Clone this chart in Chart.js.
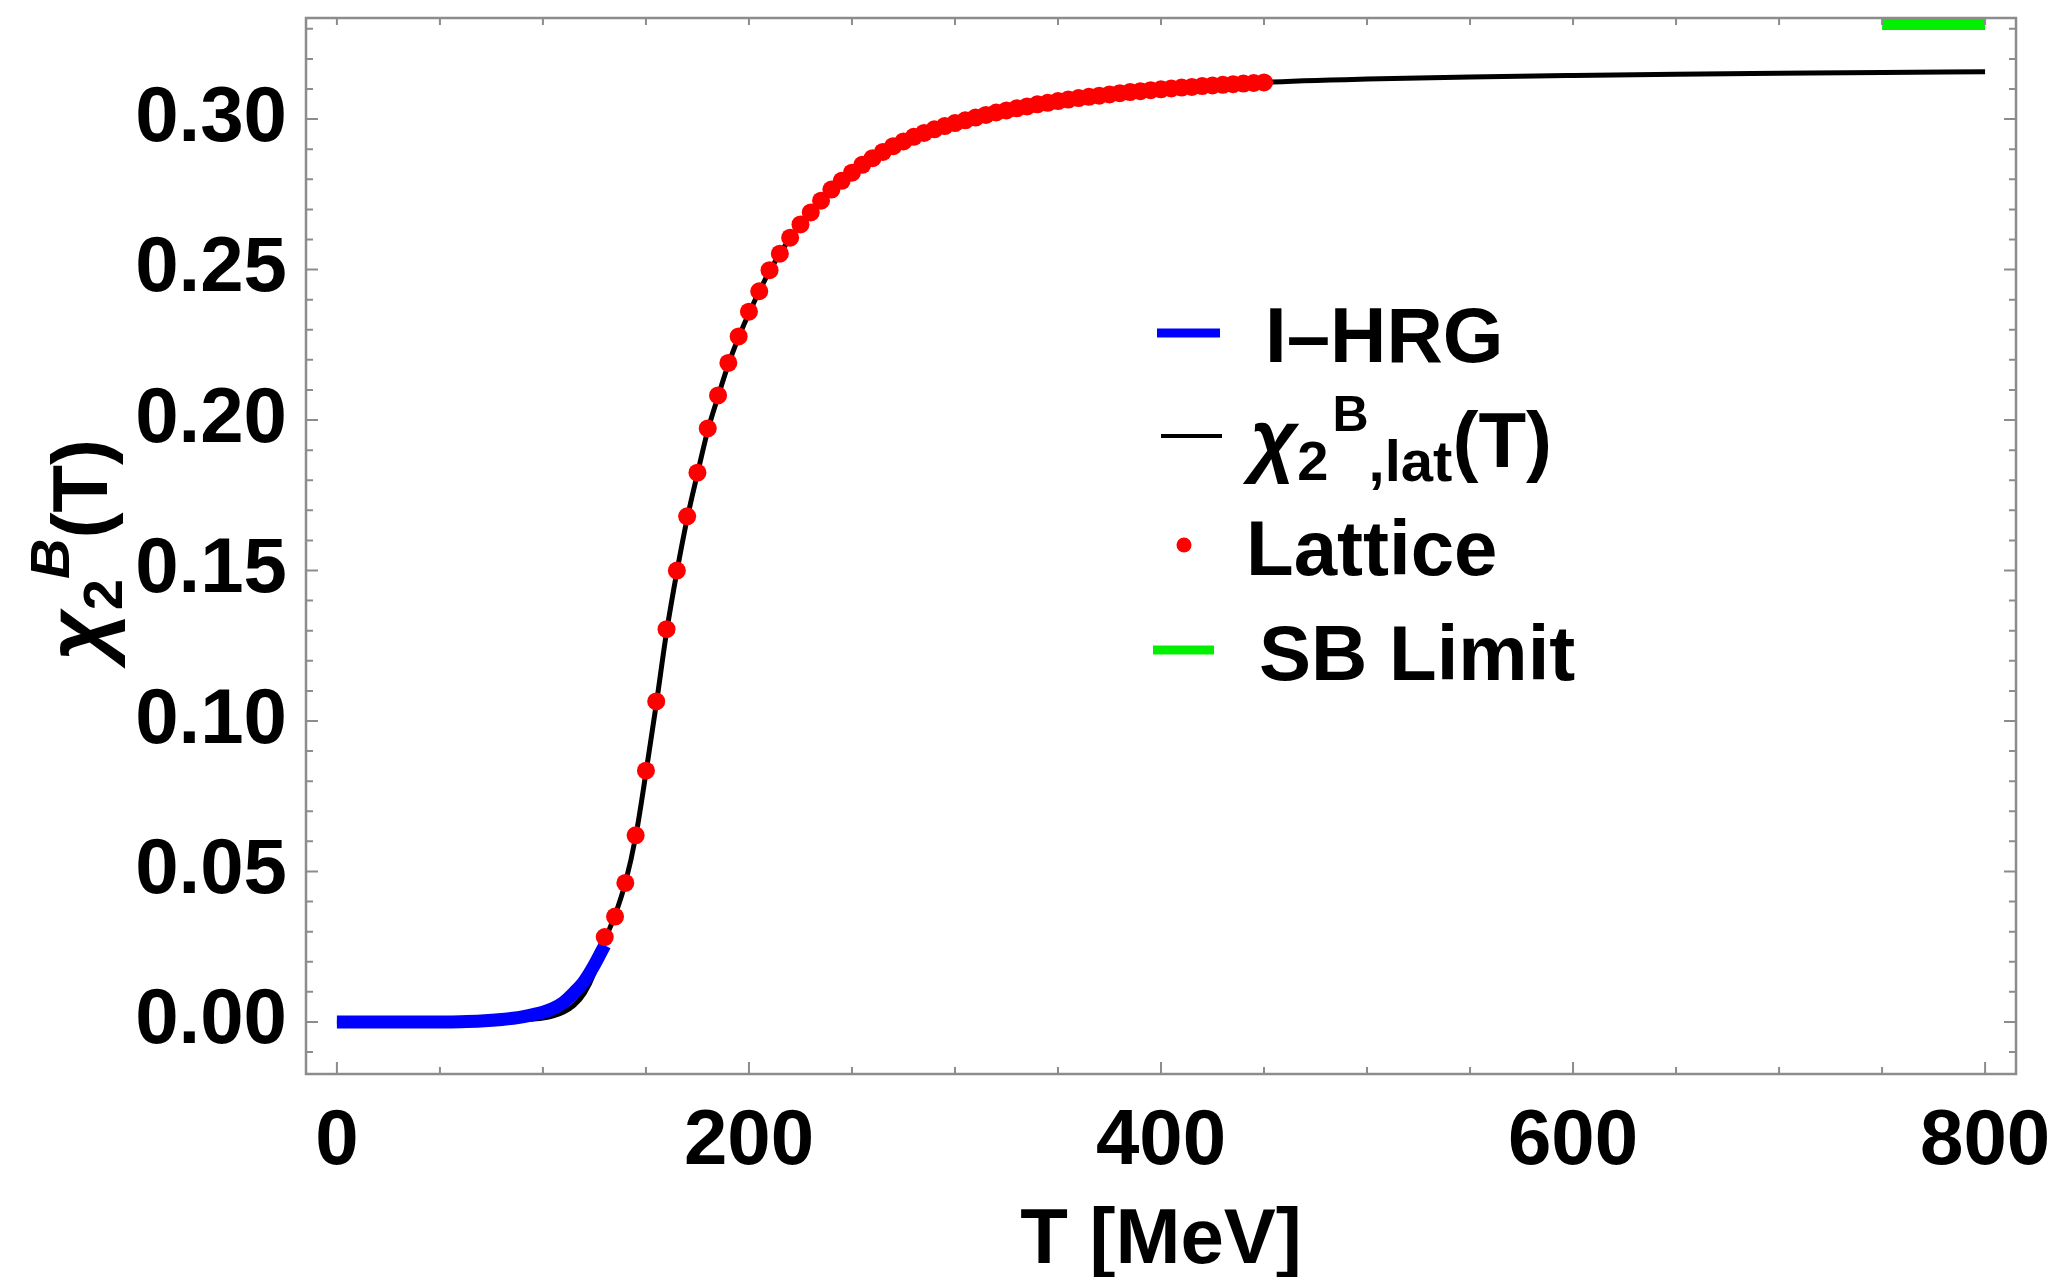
<!DOCTYPE html>
<html>
<head>
<meta charset="utf-8">
<script src="https://cdn.jsdelivr.net/npm/chart.js@4.4.0/dist/chart.umd.min.js"></script>
<style>
  body { margin: 0; background: #fff; }
  #wrap { width: 2054px; height: 1277px; }
</style>
</head>
<body>
<div id="wrap"><canvas id="chi2" width="2054" height="1277"></canvas></div>
<script>
// I-HRG curve (blue)
const hrgT   = [0, 20, 40, 60, 70, 80, 90, 100, 105, 110, 115, 120, 125, 130];
const hrgChi = [0, 0, 0, 0.0001, 0.0003, 0.0008, 0.0017, 0.0032, 0.0045, 0.0065, 0.0097, 0.0135, 0.019, 0.0255];

// lattice parametrisation (black)
const fitT   = [0, 50, 80, 90, 100, 105, 110, 115, 120, 125, 130, 135, 140, 145, 150, 155, 160, 165, 170, 175,
                180, 185, 190, 195, 200, 210, 220, 230, 240, 250, 260, 270, 280, 290, 300, 320, 340, 360, 380,
                400, 425, 450, 500, 550, 600, 650, 700, 750, 800];
const fitChi = [0, 0, 0.0003, 0.0007, 0.0013, 0.002, 0.0033, 0.0055, 0.0095, 0.0165, 0.027, 0.0355, 0.0462, 0.0615,
                0.0828, 0.1055, 0.1295, 0.1495, 0.1672, 0.1822, 0.1965, 0.2078, 0.2185, 0.2275, 0.2355, 0.2495,
                0.2605, 0.269, 0.2765, 0.2822, 0.287, 0.291, 0.294, 0.2965, 0.2986, 0.3022, 0.3048, 0.3069, 0.3086,
                0.3099, 0.3112, 0.3122, 0.3133, 0.314, 0.3145, 0.3149, 0.3152, 0.3155, 0.3157];

// lattice points (red)
const latT   = [130, 135, 140, 145, 150, 155, 160, 165, 170, 175, 180, 185, 190, 195, 200, 205, 210, 215, 220, 225,
                230, 235, 240, 245, 250, 255, 260, 265, 270, 275, 280, 285, 290, 295, 300, 305, 310, 315, 320, 325,
                330, 335, 340, 345, 350, 355, 360, 365, 370, 375, 380, 385, 390, 395, 400, 405, 410, 415, 420, 425,
                430, 435, 440, 445, 450];
const latChi = [0.0282, 0.035, 0.0462, 0.062, 0.0835, 0.1065, 0.1305, 0.15, 0.168, 0.1825, 0.1972, 0.2082, 0.219,
                0.2278, 0.236, 0.2428, 0.2498, 0.2553, 0.2606, 0.265, 0.269, 0.2729, 0.2766, 0.2795, 0.2822, 0.2848,
                0.287, 0.2891, 0.291, 0.2926, 0.2941, 0.2954, 0.2966, 0.2977, 0.2987, 0.2996, 0.3005, 0.3014, 0.3022,
                0.3029, 0.3036, 0.3042, 0.3049, 0.3054, 0.306, 0.3065, 0.307, 0.3074, 0.3078, 0.3082, 0.3086, 0.309,
                0.3093, 0.3096, 0.3099, 0.3102, 0.3105, 0.3107, 0.311, 0.3112, 0.3114, 0.3116, 0.3118, 0.312, 0.3122];

// Stefan-Boltzmann limit (green)
const sbT   = [750, 800];
const sbChi = [0.3333, 0.3333];

const xTickValues = [0, 200, 400, 600, 800];
const yTickValues = [0, 0.05, 0.10, 0.15, 0.20, 0.25, 0.30];

const FONT = '"Liberation Sans", Arial, sans-serif';

function pts(xs, ys) {
    return xs.map((v, i) => ({x: v, y: ys[i]}));
}

// draws text pieces one after another (sub/superscripts)
function drawRich(ctx, parts, x, y) {
    for (let p of parts) {
        ctx.font = p.font;
        ctx.fillText(p.text, x, y + (p.dy || 0));
        x += ctx.measureText(p.text).width + (p.gap || 0);
    }
}

const frameTicks = {
    id: 'frameTicks',
    afterDraw(chart) {
        const ctx = chart.ctx;
        const a = chart.chartArea;
        const xs = chart.scales.x, ys = chart.scales.y;
        ctx.save();
        ctx.strokeStyle = '#8c8c8c';
        ctx.lineWidth = 2;
        ctx.beginPath();
        for (let t = 0; t <= 800; t += 50) {
            let px = xs.getPixelForValue(t);
            let len = t % 200 == 0 ? 12 : 7;
            ctx.moveTo(px, a.bottom); ctx.lineTo(px, a.bottom - len);
            ctx.moveTo(px, a.top); ctx.lineTo(px, a.top + 7);
        }
        for (let k = -1; k <= 33; k++) {
            let py = ys.getPixelForValue(k / 100);
            let len = k % 5 == 0 ? 12 : 7;
            ctx.moveTo(a.left, py); ctx.lineTo(a.left + len, py);
            ctx.moveTo(a.right, py); ctx.lineTo(a.right - len, py);
        }
        ctx.stroke();
        ctx.lineWidth = 2.5;
        ctx.strokeRect(a.left, a.top, a.right - a.left, a.bottom - a.top);
        ctx.restore();
    }
};

const titlesAndLegend = {
    id: 'titlesAndLegend',
    afterDraw(chart) {
        const ctx = chart.ctx;
        const a = chart.chartArea;
        const ds = chart.data.datasets;
        ctx.save();
        ctx.fillStyle = '#000';
        ctx.textBaseline = 'alphabetic';

        // x title
        ctx.font = 'bold 78px ' + FONT;
        ctx.textAlign = 'center';
        ctx.fillText('T [MeV]', (a.left + a.right) / 2, 1263);
        ctx.textAlign = 'left';

        // y title, rotated
        ctx.save();
        ctx.translate(107, 661);
        ctx.rotate(-Math.PI / 2);
        drawRich(ctx, [
            {text: 'χ', font: 'italic bold 88px ' + FONT},
            {text: '2', font: 'bold 56px ' + FONT, dy: 15},
            {text: 'B', font: 'italic bold 56px ' + FONT, dy: -38},
            {text: '(T)', font: 'bold 78px ' + FONT, gap: 0}
        ], 0, 0);
        ctx.restore();

        // legend
        const blue = ds[1], black = ds[2], red = ds[0], green = ds[3];
        ctx.lineCap = 'butt';
        ctx.strokeStyle = blue.borderColor; ctx.lineWidth = 9;
        ctx.beginPath(); ctx.moveTo(1157, 333); ctx.lineTo(1220, 333); ctx.stroke();
        ctx.strokeStyle = black.borderColor; ctx.lineWidth = 4;
        ctx.beginPath(); ctx.moveTo(1161, 436); ctx.lineTo(1222, 436); ctx.stroke();
        ctx.fillStyle = red.backgroundColor;
        ctx.beginPath(); ctx.arc(1184, 545, 7.5, 0, Math.PI * 2); ctx.fill();
        ctx.strokeStyle = green.borderColor; ctx.lineWidth = 9;
        ctx.beginPath(); ctx.moveTo(1153, 650); ctx.lineTo(1214, 650); ctx.stroke();

        ctx.fillStyle = '#000';
        ctx.font = 'bold 78px ' + FONT;
        ctx.fillText(blue.label, 1265, 362);
        ctx.fillText(red.label, 1246, 575);
        ctx.fillText(green.label, 1259, 680);
        drawRich(ctx, [
            {text: 'χ', font: 'italic bold 82px ' + FONT},
            {text: '2', font: 'bold 56px ' + FONT, dy: 13, gap: 4},
            {text: 'B', font: 'bold 50px ' + FONT, dy: -36},
            {text: ',lat', font: 'bold 58px ' + FONT, dy: 14},
            {text: '(T)', font: 'bold 78px ' + FONT}
        ], 1250, 467);
        ctx.restore();
    }
};

new Chart(document.getElementById('chi2'), {
    type: 'scatter',
    data: {
        datasets: [
            {
                label: 'Lattice',
                data: pts(latT, latChi),
                backgroundColor: '#ff0000',
                borderColor: '#ff0000',
                pointRadius: 9,
                pointBorderWidth: 0,
                showLine: false,
                order: 0
            },
            {
                label: 'I–HRG',
                data: pts(hrgT, hrgChi),
                borderColor: '#0000ff',
                borderWidth: 13,
                pointRadius: 0,
                showLine: true,
                cubicInterpolationMode: 'monotone',
                borderCapStyle: 'butt',
                order: 1
            },
            {
                label: 'χ2B,lat(T)',
                data: pts(fitT, fitChi),
                borderColor: '#000000',
                borderWidth: 5,
                pointRadius: 0,
                showLine: true,
                cubicInterpolationMode: 'monotone',
                order: 2
            },
            {
                label: 'SB Limit',
                data: pts(sbT, sbChi),
                borderColor: '#00f000',
                borderWidth: 22,
                pointRadius: 0,
                showLine: true,
                borderCapStyle: 'butt',
                clip: 0,
                order: 3
            }
        ]
    },
    options: {
        responsive: false,
        animation: false,
        layout: {padding: {top: 18, right: 38, left: 0, bottom: 0}},
        plugins: {legend: {display: false}, tooltip: {enabled: false}},
        scales: {
            x: {
                type: 'linear',
                min: -15,
                max: 815,
                grid: {display: false},
                border: {display: false},
                afterBuildTicks: s => { s.ticks = xTickValues.map(v => ({value: v})); },
                afterFit: s => { s.height = 203; s.paddingLeft = 0; s.paddingRight = 0; },
                ticks: {
                    color: '#000',
                    padding: 14,
                    maxRotation: 0,
                    font: {family: FONT, size: 78, weight: 'bold'},
                    callback: v => String(v)
                }
            },
            y: {
                type: 'linear',
                min: -0.0173,
                max: 0.3336,
                grid: {display: false},
                border: {display: false},
                afterBuildTicks: s => { s.ticks = yTickValues.map(v => ({value: v})); },
                afterFit: s => { s.width = 306; s.paddingTop = 0; s.paddingBottom = 0; },
                ticks: {
                    color: '#000',
                    padding: 11,
                    font: {family: FONT, size: 78, weight: 'bold'},
                    callback: v => v.toFixed(2)
                }
            }
        }
    },
    plugins: [frameTicks, titlesAndLegend]
});
</script>
</body>
</html>
